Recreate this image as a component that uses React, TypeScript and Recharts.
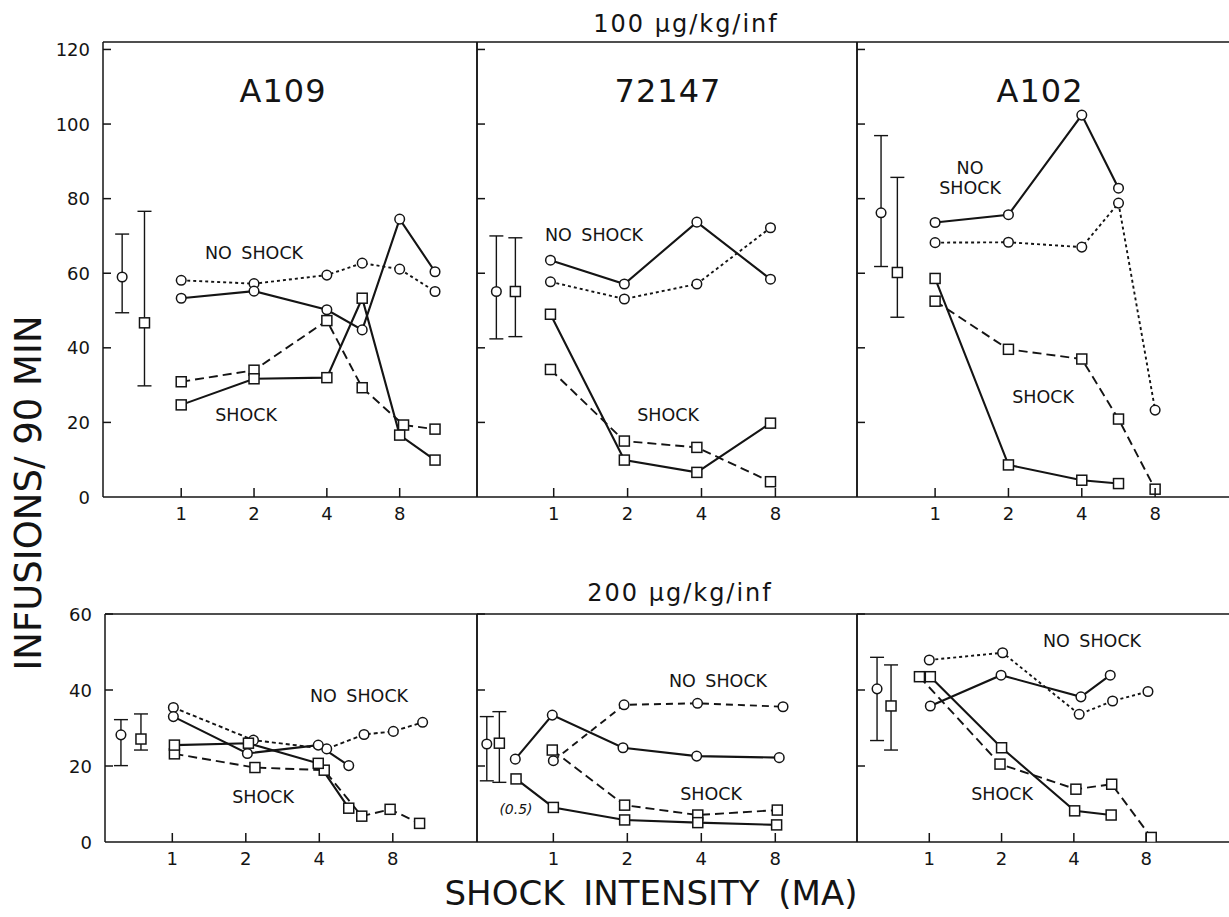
import React from 'react';
import { ComposedChart, Line, Scatter, ErrorBar, XAxis, YAxis, ReferenceLine } from 'recharts';

const INK = '#141414';
const FONT = '"DejaVu Sans", Verdana, sans-serif';

// axis ticks
const xTicks = [1, 2, 4, 8];
const yTicksTop = [0, 20, 40, 60, 80, 100, 120];
const yTicksBottom = [0, 20, 40, 60];

// ---- 100 ug/kg/inf ----
// A109
const a109HiX = [1, 2, 4, 5.6, 8, 11.2];
const a109HiNoShockSolid = [53.3, 55.2, 50.2, 44.8, 74.5, 60.4];
const a109HiNoShockDotted = [58.1, 57.2, 59.5, 62.7, 61.1, 55.1];
const a109HiShockSolid = [24.7, 31.7, 32.0, 53.3, 16.6, 9.9];
const a109HiShockDashedX = [1, 2, 4, 5.6, 8.3, 11.2];
const a109HiShockDashed = [30.9, 34.0, 47.3, 29.3, 19.3, 18.2];
const a109HiBaseX = [0.57, 0.705];
const a109HiBaseMean = [59.0, 46.7];
const a109HiBaseLow = [49.4, 29.8];
const a109HiBaseHigh = [70.5, 76.6];

// 72147
const r72147HiX = [0.97, 1.94, 3.83, 7.64];
const r72147HiNoShockSolid = [63.5, 57.1, 73.7, 58.4];
const r72147HiNoShockDotted = [57.7, 53.1, 57.1, 72.2];
const r72147HiShockSolid = [49.0, 9.9, 6.6, 19.8];
const r72147HiShockDashed = [34.2, 15.0, 13.3, 4.1];
const r72147HiBaseX = [0.584, 0.698];
const r72147HiBaseMean = [55.1, 55.1];
const r72147HiBaseLow = [42.4, 43.0];
const r72147HiBaseHigh = [70.0, 69.5];

// A102
const a102HiX = [1, 2, 4, 5.66, 8];
const a102HiNoShockSolid = [73.6, 75.7, 102.4, 82.8];
const a102HiNoShockDotted = [68.2, 68.3, 67.0, 78.8, 23.3];
const a102HiShockSolid = [58.6, 8.6, 4.5, 3.6];
const a102HiShockDashed = [52.5, 39.6, 37.0, 20.9, 2.1];
const a102HiBaseX = [0.6, 0.7];
const a102HiBaseMean = [76.2, 60.2];
const a102HiBaseLow = [61.8, 48.2];
const a102HiBaseHigh = [96.9, 85.7];

// ---- 200 ug/kg/inf ----
// A109
const a109LoNoShockDottedX = [1.01, 2.15, 4.29, 6.1, 8.04, 10.6];
const a109LoNoShockDotted = [35.4, 26.8, 24.5, 28.3, 29.1, 31.5];
const a109LoNoShockSolidX = [1.01, 2.03, 3.96, 5.28];
const a109LoNoShockSolid = [33.0, 23.3, 25.5, 20.1];
const a109LoShockSolidX = [1.02, 2.05, 3.96, 5.28];
const a109LoShockSolid = [25.5, 26.0, 20.7, 8.9];
const a109LoShockDashedX = [1.02, 2.18, 4.19, 5.97, 7.8, 10.3];
const a109LoShockDashed = [23.2, 19.6, 18.9, 6.8, 8.6, 4.9];
const a109LoBaseX = [0.616, 0.744];
const a109LoBaseMean = [28.2, 27.1];
const a109LoBaseLow = [20.1, 24.2];
const a109LoBaseHigh = [32.2, 33.7];

// 72147
const r72147LoNoShockSolidX = [0.7, 0.99, 1.92, 3.83, 8.3];
const r72147LoNoShockSolid = [21.8, 33.4, 24.8, 22.6, 22.2];
const r72147LoNoShockDashedX = [1.0, 1.94, 3.86, 8.6];
const r72147LoNoShockDashed = [21.4, 36.1, 36.5, 35.6];
const r72147LoShockDashedX = [0.99, 1.95, 3.87, 8.15];
const r72147LoShockDashed = [24.2, 9.7, 7.1, 8.4];
const r72147LoShockSolidX = [0.705, 1.0, 1.95, 3.87, 8.1];
const r72147LoShockSolid = [16.6, 9.1, 5.8, 5.1, 4.5];
const r72147LoBaseX = [0.536, 0.603];
const r72147LoBaseMean = [25.8, 26.0];
const r72147LoBaseLow = [16.1, 15.7];
const r72147LoBaseHigh = [33.0, 34.3];

// A102
const a102LoNoShockDottedX = [1.0, 2.02, 4.21, 5.8, 8.14];
const a102LoNoShockDotted = [47.9, 49.8, 33.6, 37.1, 39.6];
const a102LoNoShockSolidX = [1.01, 1.99, 4.28, 5.67];
const a102LoNoShockSolid = [35.8, 43.9, 38.2, 43.9];
const a102LoShockSolidX = [1.01, 2.0, 4.03, 5.72];
const a102LoShockSolid = [43.5, 24.8, 8.2, 7.1];
const a102LoShockDashedX = [0.91, 1.97, 4.08, 5.75, 8.4];
const a102LoShockDashed = [43.5, 20.5, 13.9, 15.2, 1.2];
const a102LoBaseX = [0.606, 0.693];
const a102LoBaseMean = [40.3, 35.8];
const a102LoBaseLow = [26.7, 24.2];
const a102LoBaseHigh = [48.6, 46.6];

type Kind = 'circle' | 'square';
type Series = { xs: number[]; ys: number[]; kind: Kind; dash?: string };
type Base = { xs: number[]; mean: number[]; low: number[]; high: number[] };

const DOT = '3 3';
const DASH = '9 5';

const s = (xs: number[], ys: number[], kind: Kind, dash?: string): Series => ({ xs, ys, kind, dash });
const b = (xs: number[], mean: number[], low: number[], high: number[]): Base => ({ xs, mean, low, high });

const Marker = ({ cx, cy, kind }: { cx: number; cy: number; kind: Kind }) =>
  kind === 'circle' ? (
    <circle cx={cx} cy={cy} r={4.8} fill="#fff" stroke={INK} strokeWidth={1.5} />
  ) : (
    <rect x={cx - 5} y={cy - 5} width={10} height={10} fill="#fff" stroke={INK} strokeWidth={1.5} />
  );

type Cfg = {
  left: number;
  top: number;
  width: number;
  height: number;
  domain: [number, number];
  yMax: number;
  yTicks: number[];
  labels: boolean;
};

const PAD_L = 60;
const PAD_T = 16;
const PAD_R = 6;
const PAD_B = 30;

function Panel({ cfg, series, base }: { cfg: Cfg; series: Series[]; base: Base }) {
  const { left, top, width, height, domain, yMax, yTicks, labels } = cfg;
  const xTick = (p: any) => (
    <g>
      <line x1={p.x} x2={p.x} y1={p.y} y2={p.y - 9} stroke={INK} strokeWidth={1.5} />
      <text x={p.x} y={p.y + 16} textAnchor="middle" dominantBaseline="central" fontFamily={FONT} fontSize={18} fill={INK}>
        {p.payload.value}
      </text>
    </g>
  );
  const yTick = (p: any) => (
    <g>
      {p.payload.value !== 0 && (
        <line x1={p.x + 13} x2={p.x + 21} y1={p.y} y2={p.y} stroke={INK} strokeWidth={1.5} />
      )}
      {labels && (
        <text x={p.x} y={p.y} textAnchor="end" dominantBaseline="central" fontFamily={FONT} fontSize={18} fill={INK}>
          {p.payload.value}
        </text>
      )}
    </g>
  );
  return (
    <div style={{ position: 'absolute', left: left - PAD_L, top: top - PAD_T }}>
      <ComposedChart
        width={width + PAD_L + PAD_R}
        height={height + PAD_T + PAD_B}
        margin={{ top: PAD_T, right: PAD_R, bottom: 0, left: 0 }}
      >
        <XAxis
          dataKey="x"
          type="number"
          scale="log"
          domain={domain}
          allowDataOverflow
          ticks={xTicks}
          interval={0}
          height={PAD_B}
          tickSize={0}
          tickMargin={0}
          tickLine={false}
          axisLine={{ stroke: INK, strokeWidth: 1.5 }}
          tick={xTick}
        />
        <YAxis
          dataKey="y"
          type="number"
          domain={[0, yMax]}
          allowDataOverflow
          ticks={yTicks}
          interval={0}
          width={PAD_L}
          tickSize={0}
          tickMargin={13}
          tickLine={false}
          axisLine={{ stroke: INK, strokeWidth: 1.5 }}
          tick={yTick}
        />
        <ReferenceLine y={yMax} stroke={INK} strokeWidth={1.5} ifOverflow="visible" />
        <ReferenceLine x={domain[1]} stroke={INK} strokeWidth={1.5} ifOverflow="visible" />
        {series.map((sr, i) => (
          <Line
            key={i}
            data={sr.xs.map((x, j) => ({ x, y: sr.ys[j] }))}
            dataKey="y"
            type="linear"
            stroke={INK}
            strokeWidth={sr.dash ? 1.9 : 2.1}
            strokeDasharray={sr.dash}
            dot={(p: any) => <Marker key={p.index} cx={p.cx} cy={p.cy} kind={sr.kind} />}
            activeDot={false}
            isAnimationActive={false}
          />
        ))}
        {(['circle', 'square'] as Kind[]).map((kind, i) => (
          <Scatter
            key={kind}
            data={[{ x: base.xs[i], y: base.mean[i], err: [base.mean[i] - base.low[i], base.high[i] - base.mean[i]] }]}
            dataKey="y"
            shape={(p: any) => <Marker cx={p.cx} cy={p.cy} kind={kind} />}
            isAnimationActive={false}
          >
            <ErrorBar dataKey="err" direction="y" width={7} stroke={INK} strokeWidth={1.4} />
          </Scatter>
        ))}
      </ComposedChart>
    </div>
  );
}

const top = { top: 42, height: 455, yMax: 122, yTicks: yTicksTop };
const bottom = { top: 614, height: 228, yMax: 60, yTicks: yTicksBottom };

const panels: { cfg: Cfg; series: Series[]; base: Base }[] = [
  {
    cfg: { ...top, left: 103, width: 374, domain: [0.475, 16.7], labels: true },
    series: [
      s(a109HiX, a109HiNoShockDotted, 'circle', DOT),
      s(a109HiShockDashedX, a109HiShockDashed, 'square', DASH),
      s(a109HiX, a109HiNoShockSolid, 'circle'),
      s(a109HiX, a109HiShockSolid, 'square'),
    ],
    base: b(a109HiBaseX, a109HiBaseMean, a109HiBaseLow, a109HiBaseHigh),
  },
  {
    cfg: { ...top, left: 477, width: 380, domain: [0.487, 17.2], labels: false },
    series: [
      s(r72147HiX, r72147HiNoShockDotted, 'circle', DOT),
      s(r72147HiX, r72147HiShockDashed, 'square', DASH),
      s(r72147HiX, r72147HiNoShockSolid, 'circle'),
      s(r72147HiX, r72147HiShockSolid, 'square'),
    ],
    base: b(r72147HiBaseX, r72147HiBaseMean, r72147HiBaseLow, r72147HiBaseHigh),
  },
  {
    cfg: { ...top, left: 857, width: 376, domain: [0.478, 16.7], labels: false },
    series: [
      s(a102HiX, a102HiNoShockDotted, 'circle', DOT),
      s(a102HiX, a102HiShockDashed, 'square', DASH),
      s(a102HiX.slice(0, 4), a102HiNoShockSolid, 'circle'),
      s(a102HiX.slice(0, 4), a102HiShockSolid, 'square'),
    ],
    base: b(a102HiBaseX, a102HiBaseMean, a102HiBaseLow, a102HiBaseHigh),
  },
  {
    cfg: { ...bottom, left: 105, width: 372, domain: [0.53, 17.7], labels: true },
    series: [
      s(a109LoNoShockDottedX, a109LoNoShockDotted, 'circle', '4 3'),
      s(a109LoShockDashedX, a109LoShockDashed, 'square', DASH),
      s(a109LoNoShockSolidX, a109LoNoShockSolid, 'circle'),
      s(a109LoShockSolidX, a109LoShockSolid, 'square'),
    ],
    base: b(a109LoBaseX, a109LoBaseMean, a109LoBaseLow, a109LoBaseHigh),
  },
  {
    cfg: { ...bottom, left: 477, width: 380, domain: [0.489, 17.2], labels: false },
    series: [
      s(r72147LoNoShockDashedX, r72147LoNoShockDashed, 'circle', '7 5'),
      s(r72147LoShockDashedX, r72147LoShockDashed, 'square', DASH),
      s(r72147LoNoShockSolidX, r72147LoNoShockSolid, 'circle'),
      s(r72147LoShockSolidX, r72147LoShockSolid, 'square'),
    ],
    base: b(r72147LoBaseX, r72147LoBaseMean, r72147LoBaseLow, r72147LoBaseHigh),
  },
  {
    cfg: { ...bottom, left: 857, width: 376, domain: [0.5, 18.4], labels: false },
    series: [
      s(a102LoNoShockDottedX, a102LoNoShockDotted, 'circle', DOT),
      s(a102LoShockDashedX, a102LoShockDashed, 'square', DASH),
      s(a102LoNoShockSolidX, a102LoNoShockSolid, 'circle'),
      s(a102LoShockSolidX, a102LoShockSolid, 'square'),
    ],
    base: b(a102LoBaseX, a102LoBaseMean, a102LoBaseLow, a102LoBaseHigh),
  },
];

const Note = ({ x, y, children, size = 17.5 }: { x: number; y: number; children: React.ReactNode; size?: number }) => (
  <text x={x} y={y} textAnchor="middle" dominantBaseline="central" fontSize={size} wordSpacing={4}>
    {children}
  </text>
);

export default function App() {
  return (
    <div style={{ position: 'absolute', left: 0, top: 0, width: 1229, height: 917, background: '#fff', overflow: 'hidden' }}>
      {panels.map((p, i) => (
        <Panel key={i} cfg={p.cfg} series={p.series} base={p.base} />
      ))}
      <svg
        width={1229}
        height={917}
        style={{ position: 'absolute', left: 0, top: 0, pointerEvents: 'none' }}
        fontFamily={FONT}
        fill={INK}
      >
        <text x={686} y={32} textAnchor="middle" fontSize={24} letterSpacing={2}>100 μg/kg/inf</text>
        <text x={680} y={601} textAnchor="middle" fontSize={24} letterSpacing={2}>200 μg/kg/inf</text>

        <text x={283} y={102} textAnchor="middle" fontSize={32} letterSpacing={1}>A109</text>
        <text x={668} y={102} textAnchor="middle" fontSize={32} letterSpacing={1}>72147</text>
        <text x={1040} y={102} textAnchor="middle" fontSize={32} letterSpacing={1}>A102</text>

        <Note x={254} y={253}>NO SHOCK</Note>
        <Note x={246} y={415}>SHOCK</Note>
        <Note x={594} y={235}>NO SHOCK</Note>
        <Note x={668} y={415}>SHOCK</Note>
        <Note x={970} y={168}>NO</Note>
        <Note x={970} y={188}>SHOCK</Note>
        <Note x={1043} y={397}>SHOCK</Note>

        <Note x={359} y={696}>NO SHOCK</Note>
        <Note x={263} y={797}>SHOCK</Note>
        <Note x={718} y={681}>NO SHOCK</Note>
        <Note x={711} y={794}>SHOCK</Note>
        <text x={516} y={809} textAnchor="middle" dominantBaseline="central" fontSize={14} fontStyle="italic">(0.5)</text>
        <Note x={1092} y={641}>NO SHOCK</Note>
        <Note x={1002} y={794}>SHOCK</Note>

        <text
          transform="translate(28,493) rotate(-90)"
          textAnchor="middle"
          dominantBaseline="central"
          fontSize={37}
        >
          INFUSIONS/ 90 MIN
        </text>
        <text x={651} y={905} textAnchor="middle" fontSize={34} wordSpacing={8}>
          SHOCK INTENSITY (MA)
        </text>
      </svg>
    </div>
  );
}
